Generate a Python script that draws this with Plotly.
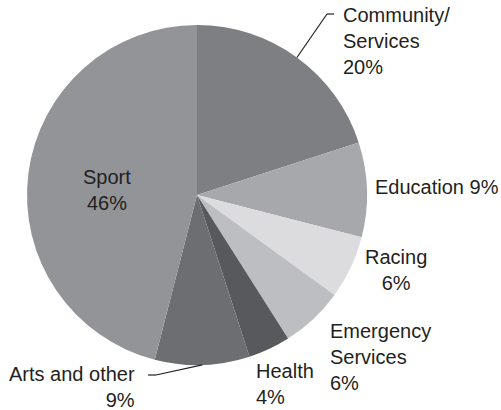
import math
import plotly.graph_objects as go

labels = ["Community/<br>Services", "Education", "Racing", "Emergency<br>Services",
          "Health", "Arts and other", "Sport"]
values = [20, 9, 6, 6, 4, 9, 46]
colors = ["#7e7f83", "#a7a8ab", "#dcdcde", "#bdbec1", "#58595c", "#6d6e72", "#939498"]
label_text = ["Community/<br>Services<br>20%", "Education 9%", "Racing<br>6%",
              "Emergency<br>Services<br>6%", "Health<br>4%", "Arts and other<br>9%",
              "Sport<br>46%"]

W, H = 501, 410
CX, CY, R = 197, 195, 170

fig = go.Figure(go.Pie(
    labels=labels, values=values, sort=False, direction="clockwise", rotation=0,
    marker=dict(colors=colors, line=dict(width=0)),
    textinfo="none", hoverinfo="skip", showlegend=False,
    domain=dict(x=[(CX - R) / W, (CX + R) / W], y=[1 - (CY + R) / H, 1 - (CY - R) / H]),
))

# label placements: (pixel x, pixel y, xanchor, align)
placements = [
    (341, 41, "left", "left"),
    (373, 187, "left", "left"),
    (396, 270, "center", "center"),
    (328, 357, "left", "left"),
    (254, 384, "left", "left"),
    (137, 387, "right", "right"),
    (107, 190, "center", "center"),
]
for txt, (px, py, xa, al) in zip(label_text, placements):
    fig.add_annotation(text=txt, x=px / W, y=1 - py / H, xref="paper", yref="paper",
                       xanchor=xa, yanchor="middle", align=al, showarrow=False,
                       font=dict(family="Liberation Sans, Arial, sans-serif", size=20, color="#231f20"))

# leader lines from slice mid-angles
total = sum(values)
cum = [sum(values[:i]) for i in range(len(values))]
def edge_point(i):
    ang = 2 * math.pi * (cum[i] + values[i] / 2) / total
    return CX + R * math.sin(ang), CY - R * math.cos(ang)

def px2paper(x, y):
    return x / W, 1 - y / H

leaders = {0: [(327, 14), (334, 14)], 5: [(156, 375), (148, 375)]}
for i, pts in leaders.items():
    p0 = edge_point(i)
    seq = [p0] + pts
    for a, b in zip(seq[:-1], seq[1:]):
        x0, y0 = px2paper(*a)
        x1, y1 = px2paper(*b)
        fig.add_shape(type="line", xref="paper", yref="paper", x0=x0, y0=y0, x1=x1, y1=y1,
                      line=dict(color="#231f20", width=1.2))

fig.update_layout(width=W, height=H, margin=dict(l=0, r=0, t=0, b=0),
                  paper_bgcolor="white", plot_bgcolor="white")
fig.write_html("out.html")
